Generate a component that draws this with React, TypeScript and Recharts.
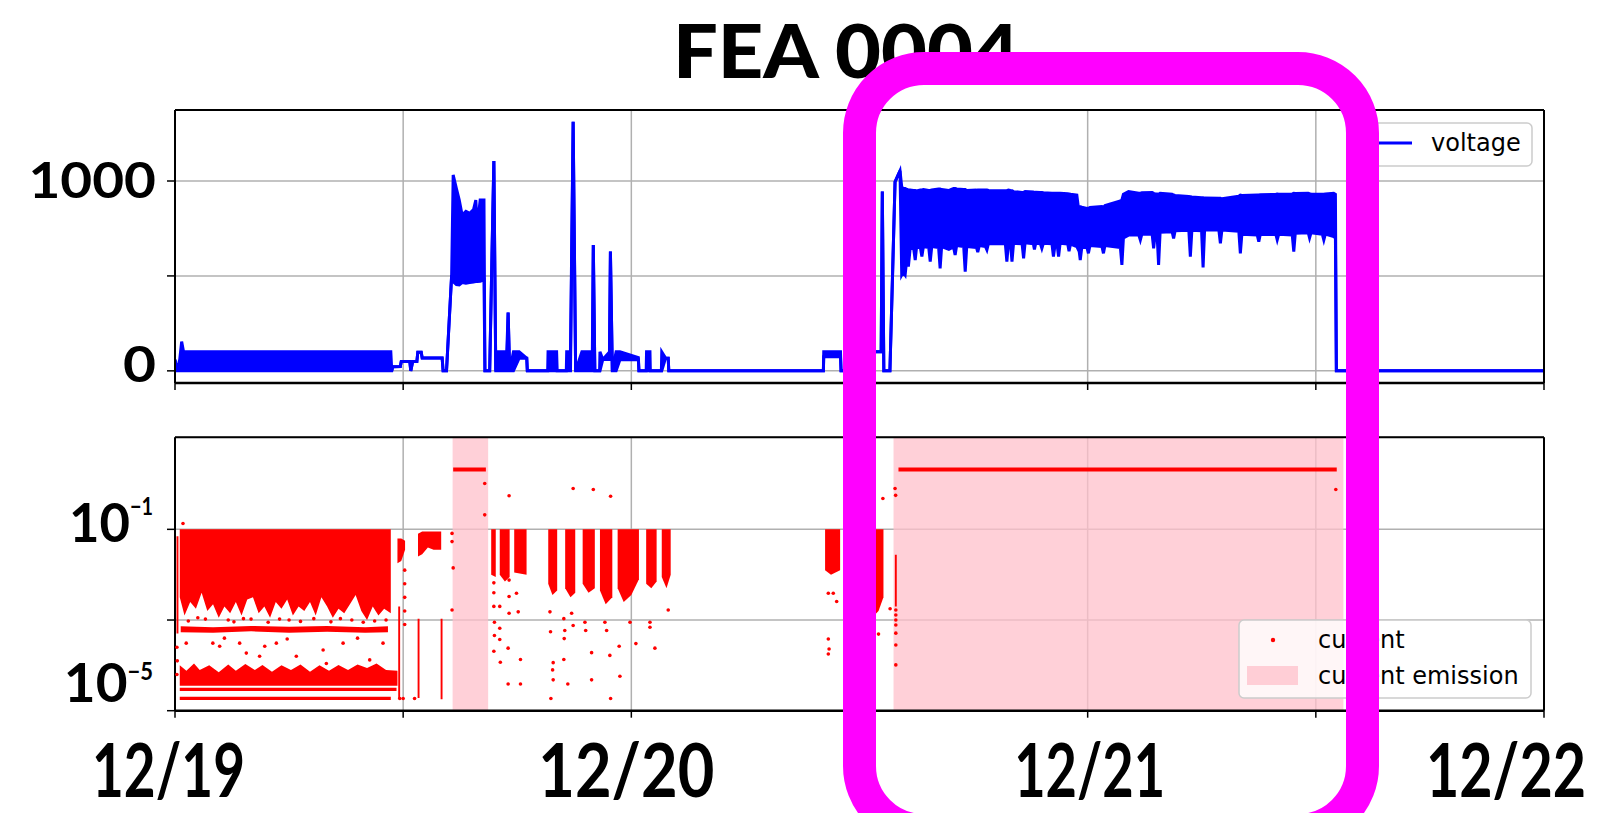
import React from 'react';
import {ComposedChart, Area, Line, Scatter, XAxis, YAxis, CartesianGrid, ReferenceArea, ReferenceLine} from 'recharts';

// x is hours since 12/19 00:00
const hourTicks = [0, 12, 24, 36, 48, 60, 72];
const dateLabels: Record<number, string> = {0: '12/19', 24: '12/20', 48: '12/21', 72: '12/22'};
const voltTicks = [0, 500, 1000];
const voltLabels: Record<number, string> = {0: '0', 1000: '1000'};
// current axis is log10(A)
const currentTicks = [-5, -3, -1];
const currentLabels: Record<number, string> = {[-1]: '\u22121', [-5]: '\u22125'};

// [hour, low, high] voltage (V); low/high is the band of the fast switching
const voltage: number[][] = [
    [0.0, 58, 58], [0.1, 0, 0], [0.25, 0, 60], [0.35, 0, 154], [0.45, 0, 101], [11.35, 0, 101],
    [11.4, 0, 0], [11.45, 22, 22], [11.85, 23, 23], [11.9, 49, 49], [12.35, 49, 49], [12.4, 0, 0],
    [12.5, 49, 49], [12.72, 49, 49], [12.77, 98, 98], [12.95, 98, 98], [13.0, 68, 68], [14.05, 68, 68],
    [14.1, 0, 0], [14.28, 0, 0], [14.55, 505, 505], [14.63, 470, 1032], [14.8, 455, 960], [14.95, 453, 900],
    [15.1, 465, 821], [15.3, 462, 840], [15.5, 465, 830], [15.7, 468, 850], [15.82, 470, 900], [15.9, 470, 763],
    [16.05, 472, 900], [16.25, 479, 900], [16.3, 0, 0], [16.55, 0, 0], [16.77, 1105, 1105], [16.87, 0, 0],
    [16.97, 0, 100], [17.45, 0, 100], [17.52, 307, 307], [17.6, 0, 0], [17.8, 0, 100], [18.1, 67, 100],
    [18.5, 67, 67], [18.53, 0, 0], [19.6, 0, 0], [19.62, 0, 100], [20.07, 0, 100], [20.1, 0, 0],
    [20.58, 0, 0], [20.6, 0, 100], [20.8, 0, 100], [20.94, 1312, 1312], [21.07, 0, 0], [21.4, 0, 100],
    [21.95, 0, 100], [22.0, 663, 663], [22.08, 0, 0], [22.33, 0, 0], [22.35, 0, 100], [22.5, 60, 60],
    [22.85, 60, 100], [22.9, 628, 628], [23.0, 0, 0], [23.2, 0, 100], [23.4, 58, 100], [24.37, 58, 70],
    [24.4, 0, 0], [24.78, 0, 0], [24.8, 0, 100], [24.98, 0, 100], [25.0, 0, 0], [25.58, 0, 0],
    [25.6, 0, 100], [25.8, 67, 67], [25.94, 67, 67], [25.97, 0, 0], [34.1, 0, 0], [34.12, 74, 101],
    [35.0, 74, 101], [35.03, 0, 0], [36.7, 0, 0], [36.75, 101, 101], [37.14, 101, 101], [37.2, 944, 944],
    [37.28, 0, 0], [37.6, 0, 0], [37.75, 549, 549], [37.87, 996, 996], [38.13, 1054, 1054],
    [38.22, 505, 970], [38.3, 520, 961], [38.4, 505, 961], [38.5, 600, 955], [38.57, 549, 953],
    [38.66, 640, 953], [38.84, 650, 950], [38.93, 584, 950], [39.0, 650, 948], [39.2, 650, 953],
    [39.28, 602, 953], [39.36, 655, 955], [39.64, 650, 950], [39.72, 575, 950], [39.8, 655, 953],
    [40.16, 650, 958], [40.24, 540, 958], [40.32, 655, 955], [40.7, 640, 950], [40.8, 645, 955],
    [40.95, 650, 961], [41.03, 610, 961], [41.11, 660, 958], [41.48, 655, 955], [41.56, 522, 955],
    [41.64, 655, 950], [42.15, 650, 952], [42.22, 625, 953], [42.3, 660, 953], [42.62, 655, 953],
    [42.7, 637, 953], [42.78, 670, 950], [43.67, 670, 949], [43.75, 575, 949], [43.83, 672, 952],
    [43.94, 672, 950], [44.02, 575, 949], [44.1, 672, 944], [44.55, 670, 940], [44.63, 593, 940],
    [44.71, 675, 944], [45.14, 670, 942], [45.2, 640, 940], [45.27, 672, 941], [45.51, 670, 940],
    [45.59, 645, 940], [45.67, 672, 938], [46.12, 670, 935], [46.2, 602, 935], [46.28, 660, 936],
    [46.4, 660, 935], [46.47, 602, 935], [46.55, 672, 935], [46.95, 668, 933], [47.02, 630, 932],
    [47.1, 668, 930], [47.43, 654, 926], [47.5, 640, 870], [47.53, 650, 866], [47.61, 584, 865],
    [47.69, 650, 862], [47.96, 650, 856], [48.04, 619, 856], [48.12, 660, 860], [48.75, 655, 865],
    [48.83, 619, 862], [48.91, 660, 870], [49.72, 650, 895], [49.8, 558, 900], [49.88, 700, 930],
    [50.15, 715, 944], [50.69, 715, 935], [50.77, 689, 935], [50.85, 720, 938], [51.39, 720, 940],
    [51.47, 645, 935], [51.55, 720, 932], [51.65, 720, 932], [51.73, 558, 930], [51.81, 730, 935],
    [52.44, 733, 930], [52.52, 698, 926], [52.6, 738, 924], [53.32, 740, 918], [53.4, 602, 917],
    [53.48, 740, 916], [53.99, 738, 912], [54.07, 545, 912], [54.15, 742, 910], [54.9, 742, 909],
    [54.98, 672, 909], [55.06, 742, 906], [55.95, 735, 920], [56.03, 619, 926], [56.11, 720, 924],
    [56.92, 715, 926], [57.0, 680, 926], [57.08, 720, 928], [57.9, 718, 930], [57.97, 690, 931],
    [58.05, 720, 930], [58.76, 715, 932], [58.84, 628, 935], [58.92, 725, 934], [59.6, 728, 935],
    [59.67, 700, 933], [59.75, 728, 932], [60.34, 720, 930], [60.42, 689, 930], [60.5, 720, 932],
    [60.94, 707, 935], [61.03, 700, 930], [61.08, 0, 0], [72, 0, 0],
];

// dense current clouds, each [hour, log10 low, log10 high]
const currentClouds: number[][][] = [
    [[0.25, -2.5, -1], [0.5, -2.9, -1], [0.8, -2.6, -1], [1.1, -2.75, -1], [1.4, -2.4, -1], [1.7, -2.8, -1],
        [2.0, -2.65, -1], [2.3, -2.95, -1], [2.6, -2.7, -1], [2.9, -2.85, -1], [3.2, -2.6, -1], [3.5, -2.9, -1],
        [3.8, -2.55, -1], [4.1, -2.5, -1], [4.4, -2.85, -1], [4.7, -2.7, -1], [5.0, -2.95, -1], [5.3, -2.6, -1],
        [5.6, -2.75, -1], [5.9, -2.55, -1], [6.2, -2.9, -1], [6.5, -2.7, -1], [6.8, -2.8, -1], [7.1, -2.6, -1],
        [7.4, -2.9, -1], [7.7, -2.5, -1], [8.0, -2.7, -1], [8.3, -2.95, -1], [8.6, -2.75, -1], [8.9, -2.85, -1],
        [9.2, -2.65, -1], [9.5, -2.45, -1], [9.8, -2.8, -1], [10.1, -3.0, -1], [10.4, -2.7, -1], [10.7, -2.9, -1],
        [11.0, -2.75, -1], [11.35, -2.85, -1]],
    [[0.3, -3.27, -3.14], [2.0, -3.28, -3.16], [4.0, -3.25, -3.13], [6.0, -3.28, -3.15], [8.0, -3.26, -3.13],
        [10.0, -3.28, -3.16], [11.2, -3.27, -3.14]],
    [[0.25, -4.45, -4.0], [0.6, -4.45, -4.12], [1.0, -4.45, -3.96], [1.3, -4.45, -4.1], [1.8, -4.45, -4.0],
        [2.3, -4.45, -4.15], [2.8, -4.45, -3.98], [3.2, -4.45, -4.12], [3.7, -4.45, -3.97], [4.2, -4.45, -4.1],
        [4.6, -4.45, -3.99], [5.1, -4.45, -4.14], [5.6, -4.45, -4.0], [6.1, -4.45, -4.1], [6.6, -4.45, -3.98],
        [7.1, -4.45, -4.14], [7.6, -4.45, -4.0], [8.1, -4.45, -4.12], [8.6, -4.45, -3.99], [9.1, -4.45, -4.1],
        [9.6, -4.45, -3.98], [10.1, -4.45, -4.06], [10.6, -4.45, -3.96], [11.1, -4.45, -4.1], [11.7, -4.45, -4.12]],
    [[0.08, -3.3, -1.15], [0.18, -3.3, -1.15]],
    [[11.74, -4.72, -2.7], [11.84, -4.72, -2.7]],
    [[11.7, -1.75, -1.2], [11.9, -1.7, -1.2], [12.1, -1.45, -1.25]],
    [[12.76, -4.72, -2.97], [12.86, -4.72, -2.97]],
    [[12.78, -1.6, -1.1], [13.0, -1.55, -1.05], [13.3, -1.4, -1.05], [13.6, -1.45, -1.05], [14.0, -1.45, -1.05]],
    [[13.97, -4.75, -2.97], [14.07, -4.75, -2.97]],
    [[16.63, -2.0, -1], [16.87, -2.05, -1]],
    [[17.08, -2.0, -1], [17.35, -2.15, -1], [17.6, -2.05, -1]],
    [[17.84, -1.95, -1], [18.49, -2.0, -1]],
    [[19.63, -2.2, -1], [19.85, -2.45, -1], [20.1, -2.35, -1]],
    [[20.52, -2.3, -1], [20.8, -2.5, -1], [21.05, -2.4, -1]],
    [[21.44, -2.2, -1], [21.75, -2.4, -1], [22.08, -2.3, -1]],
    [[22.35, -2.35, -1], [22.65, -2.65, -1], [23.0, -2.5, -1]],
    [[23.28, -2.3, -1], [23.6, -2.6, -1], [24.0, -2.45, -1], [24.4, -2.1, -1]],
    [[24.78, -2.2, -1], [25.05, -2.3, -1], [25.33, -2.15, -1]],
    [[25.6, -2.05, -1], [25.85, -2.3, -1], [26.07, -2.0, -1]],
    [[34.19, -1.9, -1], [34.5, -2.0, -1], [34.98, -1.9, -1]],
    [[36.77, -2.9, -1], [37.0, -2.8, -1], [37.26, -2.5, -1]],
    [[37.86, -2.7, -1.56], [37.96, -2.7, -1.56]],
];

// runs of near-identical readings: [from hour, to hour, log10]
const currentLevels: number[][] = [
    [14.63, 16.35, 0.32], [38.05, 61.1, 0.32], [0.25, 11.65, -4.53], [0.25, 11.35, -4.73],
];

// isolated current readings: [hour, log10]
const currentDots: number[][] = [
    [0.42, -0.87], [0.1, -3.6], [0.12, -3.9], [0.1, -4.2],
    [0.59, -3.51], [1.99, -3.51], [2.35, -3.58], [3.4, -3.51], [3.75, -3.73], [4.45, -3.8], [4.72, -3.58],
    [5.33, -3.51], [6.38, -3.8], [7.79, -3.66], [7.96, -3.96], [8.84, -3.51], [10.24, -3.88], [10.94, -3.51],
    [1.2, -2.95], [2.8, -3.0], [4.0, -2.98], [6.0, -3.0], [7.3, -2.97], [9.3, -3.0], [10.5, -3.02],
    [0.7, -3.02], [1.6, -2.98], [3.1, -3.04], [3.6, -2.97], [4.9, -3.05], [5.5, -2.98], [6.6, -3.03],
    [8.2, -3.04], [8.7, -2.97], [9.9, -3.05], [11.1, -3.0], [2.6, -3.4], [5.9, -3.42], [9.6, -3.4],
    [11.82, -4.73], [12.0, -4.73], [12.6, -4.73],
    [12.08, -1.9], [12.08, -2.2], [12.08, -2.5], [12.08, -2.8], [12.08, -3.1],
    [14.57, -1.09], [14.57, -1.27], [14.63, -1.85], [14.57, -2.78], [16.29, 0.01], [16.29, -0.68],
    [17.57, -0.26], [20.94, -0.1], [22.0, -0.12], [22.91, -0.27],
    [16.77, -2.18], [16.77, -2.4], [16.77, -2.7], [16.8, -3.05], [16.8, -3.34], [16.77, -3.69],
    [17.08, -2.7], [17.08, -3.18], [17.08, -3.43], [17.11, -3.93],
    [17.57, -2.12], [17.57, -2.48], [17.57, -2.85], [17.52, -3.62], [17.52, -4.41],
    [17.96, -2.41], [18.05, -2.82], [18.17, -3.87], [18.17, -4.41],
    [19.72, -2.82], [19.75, -3.26], [19.89, -3.94], [19.86, -4.1], [19.89, -4.32], [19.77, -4.73],
    [20.45, -2.97], [20.5, -3.23], [20.47, -3.41], [20.45, -3.87], [20.66, -4.41],
    [20.86, -2.85], [20.94, -3.12],
    [21.56, -3.05], [21.6, -3.23], [21.91, -3.72], [21.91, -4.32],
    [22.61, -3.05], [22.7, -3.23], [22.87, -3.78], [22.91, -4.73],
    [23.36, -3.58], [23.4, -4.24], [23.93, -3.05], [24.24, -3.52],
    [24.98, -3.16], [25.24, -3.62], [24.98, -3.05], [25.94, -2.78],
    [34.36, -2.41], [34.62, -2.41], [34.8, -2.59], [34.36, -3.42], [34.4, -3.64], [34.36, -3.75],
    [37.23, -0.32], [37.61, -2.75], [37.0, -3.31], [37.87, -0.1], [37.9, -0.25],
    [37.91, -2.78], [37.91, -2.89], [37.91, -3.0], [37.91, -3.11], [37.91, -3.29], [37.91, -3.55], [37.91, -3.99],
    [61.05, -0.12],
];

// current emission windows: [from hour, to hour]
const emission: number[][] = [[14.6, 16.47], [37.79, 61.45]];

const voltRows = voltage.map(([t, lo, hi]) => ({t, range: [lo, hi]}));
const cloudRows = currentClouds.map(c => c.map(([t, lo, hi]) => ({t, range: [lo, hi]})));
const levelRows = currentLevels.map(([a, b, e]) => [{t: a, e}, {t: b, e}]);
const dotRows = currentDots.map(([t, e]) => ({t, e}));

const W = 1599;
const BIG_FONT = 'Lato, "DejaVu Sans", sans-serif';
const axisStroke = {stroke: '#000', strokeWidth: 2};
const tickStroke = {stroke: '#000', strokeWidth: 1.5};

// the big tick labels were placed by hand over the plot: [dx, width]
const dateFit: Record<number, number[]> = {0: [-6.5, 153], 24: [-5, 176], 48: [2, 151], 72: [-38, 160]};
const DATE_SQUEEZE = 0.78; // the date font is condensed

const renderBlank = () => <g/>;

const renderDateTick = (p: any) => {
    const label = dateLabels[p.payload.value];
    if (!label) return <g/>;
    const [dx, w] = dateFit[p.payload.value];
    return (
        <g transform={`translate(${p.x + dx},${p.y + 77}) scale(${DATE_SQUEEZE},1)`}>
            <text x={0} y={0} textAnchor="middle" fontFamily={BIG_FONT} fontWeight={700} fontSize={74}
                  textLength={w / DATE_SQUEEZE} lengthAdjust="spacingAndGlyphs" fill="#000">{label}</text>
        </g>
    );
};

const renderVoltTick = (p: any) => {
    const label = voltLabels[p.payload.value];
    if (!label) return <g/>;
    const big = label.length > 1;
    return (
        <text x={p.x - 9} y={p.y + (big ? 17.3 : 11.5)} textAnchor="end" fontFamily={BIG_FONT} fontWeight={700}
              fontSize={50} textLength={big ? 127.5 : 33} lengthAdjust="spacingAndGlyphs" fill="#000">{label}</text>
    );
};

const renderCurrentTick = (p: any) => {
    const sup = currentLabels[p.payload.value];
    if (!sup) return <g/>;
    const top = p.payload.value === -1;
    const right = top ? 130 : 127.5;
    return (
        <g>
            <text x={right} y={p.y + (top ? 12.7 : -8.7)} textAnchor="end" fontFamily={BIG_FONT} fontWeight={700}
                  fontSize={54} textLength={top ? 61 : 63.7} lengthAdjust="spacingAndGlyphs" fill="#000">10</text>
            <text x={right} y={p.y + (top ? -14.3 : -30.7)} fontFamily={BIG_FONT} fontWeight={700}
                  fontSize={24} textLength={top ? 23 : 25.5} lengthAdjust="spacingAndGlyphs" fill="#000">{sup}</text>
        </g>
    );
};

const renderDot = (p: any) => <circle cx={p.cx} cy={p.cy} r={1.8} fill="#ff0000"/>;

const App: React.FC = () => {
    return (
        <div style={{position: 'absolute', left: 0, top: 0, width: W, height: 813, overflow: 'hidden', background: '#fff'}}>
            <div style={{position: 'absolute', left: 0, top: 0}}>
                <ComposedChart width={W} height={400} data={voltRows} margin={{top: 110, right: 55, bottom: 0, left: 0}}>
                    <CartesianGrid stroke="#b0b0b0" strokeWidth={1.5}/>
                    <XAxis dataKey="t" type="number" domain={[0, 72]} ticks={hourTicks} interval={0} allowDataOverflow
                           height={17} tickSize={7} tick={renderBlank} axisLine={{stroke: '#000', strokeWidth: 2.5}}
                           tickLine={tickStroke}/>
                    <YAxis type="number" domain={[-64, 1374]} ticks={voltTicks} interval={0} allowDataOverflow
                           width={175} tickSize={8} tick={renderVoltTick} axisLine={axisStroke} tickLine={tickStroke}/>
                    <ReferenceLine y={1374} stroke="#000" strokeWidth={2}/>
                    <ReferenceLine x={72} stroke="#000" strokeWidth={2}/>
                    <Area dataKey="range" type="linear" stroke="#0000ff" strokeWidth={3} fill="#0000ff"
                          fillOpacity={1} dot={false} activeDot={false} isAnimationActive={false}/>
                </ComposedChart>
            </div>
            <div style={{position: 'absolute', left: 0, top: 400}}>
                <ComposedChart width={W} height={413} margin={{top: 37.3, right: 55, bottom: 0, left: 0}}>
                    <CartesianGrid stroke="#b0b0b0" strokeWidth={1.5}/>
                    <XAxis dataKey="t" type="number" domain={[0, 72]} ticks={hourTicks} interval={0} allowDataOverflow
                           height={102.3} tickSize={7} tick={renderDateTick} axisLine={{stroke: '#000', strokeWidth: 2.5}}
                           tickLine={tickStroke}/>
                    <YAxis dataKey="e" type="number" domain={[-5, 1.03]} ticks={currentTicks} interval={0}
                           allowDataOverflow width={175} tickSize={8} tick={renderCurrentTick} axisLine={axisStroke}
                           tickLine={tickStroke}/>
                    {emission.map(([a, b], i) => (
                        <ReferenceArea key={'em' + i} x1={a} x2={b} fill="#FFC0CB" fillOpacity={0.75} stroke="none"/>
                    ))}
                    <ReferenceLine y={1.03} stroke="#000" strokeWidth={2}/>
                    <ReferenceLine x={72} stroke="#000" strokeWidth={2}/>
                    {cloudRows.map((rows, i) => (
                        <Area key={'cl' + i} data={rows} dataKey="range" type="linear" stroke="none" fill="#ff0000"
                              fillOpacity={1} dot={false} activeDot={false} isAnimationActive={false}/>
                    ))}
                    {levelRows.map((rows, i) => (
                        <Line key={'lv' + i} data={rows} dataKey="e" type="linear" stroke="#ff0000"
                              strokeWidth={i < 2 ? 4 : 3.2} dot={false} activeDot={false} isAnimationActive={false}/>
                    ))}
                    <Scatter data={dotRows} dataKey="e" fill="#ff0000" shape={renderDot} isAnimationActive={false}/>
                </ComposedChart>
            </div>
            <svg width={W} height={813} style={{position: 'absolute', left: 0, top: 0, pointerEvents: 'none'}}>
                <text x={673} y={78} fontFamily={BIG_FONT} fontWeight={900} fontSize={74} textLength={346}
                      lengthAdjust="spacingAndGlyphs" fill="#000">FEA 0004</text>
                {/* voltage legend */}
                <rect x={1354} y={123} width={178} height={43} rx={5} fill="#fff" fillOpacity={0.8} stroke="#cccccc"
                      strokeWidth={1.5}/>
                <line x1={1364} y1={143} x2={1412} y2={143} stroke="#0000ff" strokeWidth={3}/>
                <text x={1431} y={143} dominantBaseline="central" fontFamily="DejaVu Sans" fontSize={24} fill="#000">voltage</text>
                {/* current legend */}
                <rect x={1239} y={620} width={292} height={78} rx={5} fill="#fff" fillOpacity={0.8} stroke="#cccccc"
                      strokeWidth={1.5}/>
                <circle cx={1273} cy={640} r={2.2} fill="#ff0000"/>
                <rect x={1247} y={666} width={51} height={19} fill="#FFC0CB" fillOpacity={0.75}/>
                <text x={1318} y={640} dominantBaseline="central" fontFamily="DejaVu Sans" fontSize={24} fill="#000">current</text>
                <text x={1318} y={676} dominantBaseline="central" fontFamily="DejaVu Sans" fontSize={24} fill="#000">current emission</text>
            </svg>
            <div style={{
                position: 'absolute', left: 843, top: 52, width: 536, height: 795, boxSizing: 'border-box',
                border: '33px solid #ff00ff', borderRadius: 81,
            }}/>
        </div>
    );
};

export default App;
